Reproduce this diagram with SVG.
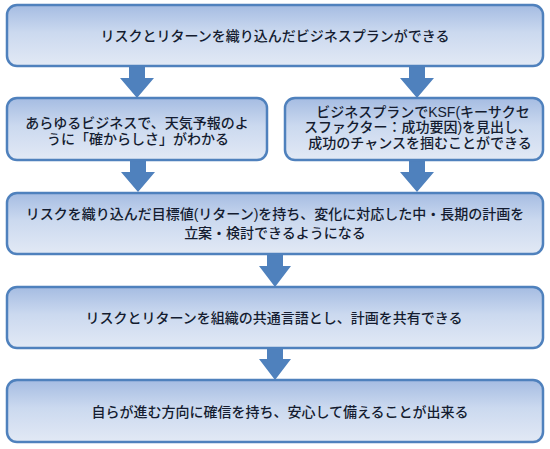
<svg xmlns="http://www.w3.org/2000/svg" width="550" height="449" viewBox="0 0 550 449">
<defs>
<linearGradient id="g" x1="0" y1="0" x2="0" y2="1">
<stop offset="0" stop-color="#a5bce2"/>
<stop offset="0.45" stop-color="#cbd9ef"/>
<stop offset="1" stop-color="#e2e9f5"/>
</linearGradient>
<style>
.box{fill:url(#g);stroke:#4f81bd;stroke-width:2.5}
.t{font-family:"Liberation Sans","Noto Sans CJK JP",sans-serif;font-size:14px;font-weight:500;fill:#141c30;text-anchor:middle}
.arr{fill:#4f81bd}
</style>
</defs>
<rect width="550" height="449" fill="#ffffff"/>
<g id="connectors">
<polygon class="arr" points="129,66 145,66 145,78 154,78 137,98 120,78 129,78"/>
<polygon class="arr" points="409,66 425,66 425,78 434,78 417,98 400,78 409,78"/>
<polygon class="arr" points="130,160 146,160 146,172 155,172 138,192 121,172 130,172"/>
<polygon class="arr" points="409,160 425,160 425,172 434,172 417,192 400,172 409,172"/>
<polygon class="arr" points="267,254 283,254 283,266 291,266 275,287 259,266 267,266"/>
<polygon class="arr" points="267,348 283,348 283,359 291,359 275,380 259,359 267,359"/>
</g>
<g id="n1">
<rect class="box" x="7" y="5" width="536" height="61" rx="10"/>
<text class="t" x="275" y="40.5">リスクとリターンを織り込んだビジネスプランができる</text>
</g>
<g id="n2">
<rect class="box" x="7" y="98" width="260" height="62" rx="10"/>
<text class="t"><tspan x="137" y="127.5">あらゆるビジネスで、天気予報のよ</tspan><tspan x="138" y="144">うに「確からしさ」がわかる</tspan></text>
</g>
<g id="n3">
<rect class="box" x="285" y="98" width="258" height="62" rx="10"/>
<text class="t"><tspan x="423" y="116.5">ビジネスプランでKSF(キーサクセ</tspan><tspan x="418" y="132">スファクター：成功要因)を見出し、</tspan><tspan x="420" y="147.5">成功のチャンスを掴むことができる</tspan></text>
</g>
<g id="n4">
<rect class="box" x="7" y="193" width="536" height="61" rx="10"/>
<text class="t"><tspan x="275" y="219">リスクを織り込んだ目標値(リターン)を持ち、変化に対応した中・長期の計画を</tspan><tspan x="275" y="238">立案・検討できるようになる</tspan></text>
</g>
<g id="n5">
<rect class="box" x="7" y="287" width="536" height="61" rx="10"/>
<text class="t" x="274" y="323">リスクとリターンを組織の共通言語とし、計画を共有できる</text>
</g>
<g id="n6">
<rect class="box" x="7" y="380" width="536" height="62" rx="10"/>
<text class="t" x="280" y="417">自らが進む方向に確信を持ち、安心して備えることが出来る</text>
</g>
</svg>
